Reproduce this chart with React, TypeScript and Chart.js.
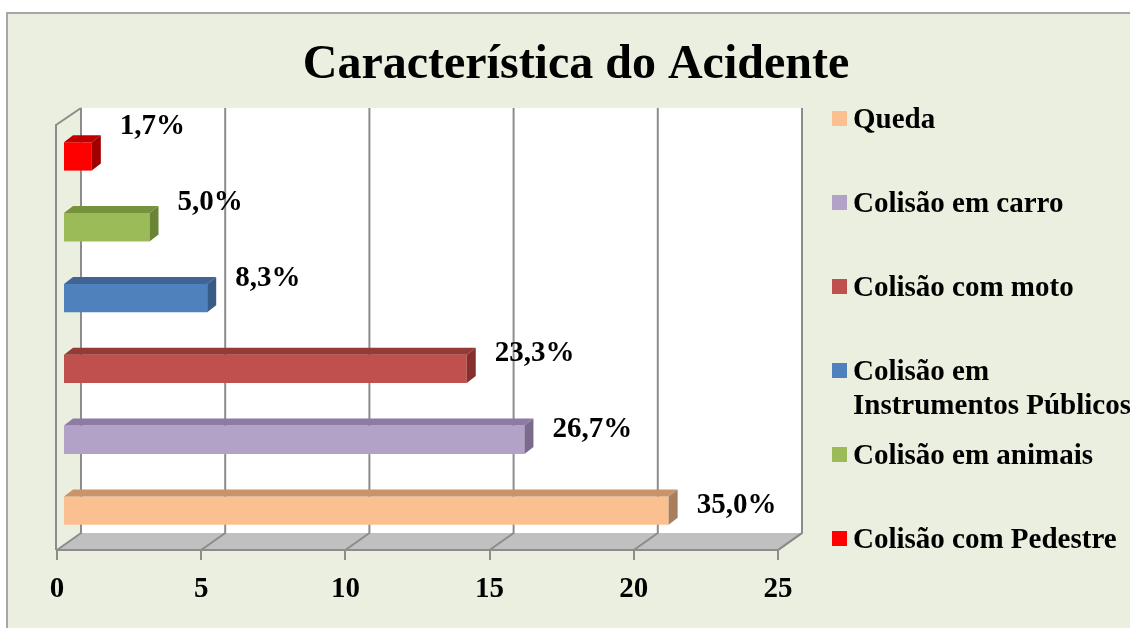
import React, { useEffect, useRef } from "react";
import { Chart, registerables } from "chart.js";

Chart.register(...registerables);

// ---- data ----
const chartTitle = "Característica do Acidente";
const categories = [
  "Queda",
  "Colisão em carro",
  "Colisão com moto",
  "Colisão em Instrumentos Públicos",
  "Colisão em animais",
  "Colisão com Pedestre",
];
const counts = [21, 16, 14, 5, 3, 1];
const percentLabels = ["35,0%", "26,7%", "23,3%", "8,3%", "5,0%", "1,7%"];
const xTicks = [0, 5, 10, 15, 20, 25];
const frontColors = ["#FAC090", "#B3A2C7", "#C0504D", "#4F81BD", "#9BBB59", "#FF0000"];
const topColors = ["#C8946C", "#8E7BA3", "#953A37", "#3E6596", "#76923C", "#C00000"];
const sideColors = ["#A87F5E", "#7A6A8C", "#86302E", "#385C88", "#6A8436", "#A00000"];

// ---- style constants ----
const FONT = "'Liberation Serif', 'Times New Roman', serif";
const BG = "#EBEFDF";
const GRID = "#8C8C8C";
const DEPTH_X = 24;
const DEPTH_Y = 17;
const BAR_SHIFT_X = 6;
const BAR_SHIFT_Y = -4;
const BAR_DX = 9;
const BAR_DY = 7;

function poly(ctx: CanvasRenderingContext2D, pts: number[][]) {
  ctx.beginPath();
  ctx.moveTo(pts[0][0], pts[0][1]);
  for (let i = 1; i < pts.length; i++) ctx.lineTo(pts[i][0], pts[i][1]);
  ctx.closePath();
}

// wrap into at most two lines: the first fits maxW, the rest overflows
function wrap2(ctx: CanvasRenderingContext2D, text: string, maxW: number): string[] {
  if (ctx.measureText(text).width <= maxW) return [text];
  const words = text.split(" ");
  let first = words[0];
  let k = 1;
  while (k < words.length && ctx.measureText(first + " " + words[k]).width <= maxW) {
    first += " " + words[k];
    k++;
  }
  const rest = words.slice(k).join(" ");
  return rest ? [first, rest] : [first];
}

const scenePlugin = {
  id: "scene3d",
  beforeDraw(chart: any) {
    const ctx: CanvasRenderingContext2D = chart.ctx;
    const { width, height } = chart;
    ctx.save();
    ctx.fillStyle = "#ffffff";
    ctx.fillRect(0, 0, width, height);
    ctx.fillStyle = BG;
    ctx.fillRect(7, 13, width - 7, height - 13);
    ctx.strokeStyle = "#A6A6A6";
    ctx.lineWidth = 2;
    ctx.beginPath();
    ctx.moveTo(7, height);
    ctx.lineTo(7, 13);
    ctx.lineTo(width, 13);
    ctx.stroke();

    // title
    ctx.fillStyle = "#000";
    ctx.font = `bold 48px ${FONT}`;
    ctx.textAlign = "center";
    ctx.textBaseline = "alphabetic";
    ctx.fillText(chartTitle, 576, 78);

    const a = chart.chartArea;
    const xs = chart.scales.x;
    const L = a.left, R = a.right, T = a.top, B = a.bottom;

    // back wall
    ctx.fillStyle = "#ffffff";
    ctx.fillRect(L + DEPTH_X, T - DEPTH_Y, R - L, B - T);
    // floor
    ctx.fillStyle = "#C0C0C0";
    poly(ctx, [[L, B], [R, B], [R + DEPTH_X, B - DEPTH_Y], [L + DEPTH_X, B - DEPTH_Y]]);
    ctx.fill();
    // left wall
    ctx.fillStyle = BG;
    poly(ctx, [[L - 1, T], [L + DEPTH_X, T - DEPTH_Y], [L + DEPTH_X, B - DEPTH_Y], [L - 1, B]]);
    ctx.fill();

    ctx.strokeStyle = GRID;
    ctx.lineWidth = 2;
    xTicks.forEach((v) => {
      const x = xs.getPixelForValue(v);
      ctx.beginPath();
      ctx.moveTo(x, B);
      ctx.lineTo(x + DEPTH_X, B - DEPTH_Y);
      ctx.lineTo(x + DEPTH_X, T - DEPTH_Y);
      ctx.stroke();
    });
    ctx.beginPath();
    ctx.moveTo(L - 1, B);
    ctx.lineTo(L - 1, T);
    ctx.lineTo(L + DEPTH_X, T - DEPTH_Y);
    ctx.stroke();
    ctx.beginPath();
    ctx.moveTo(L - 1, B);
    ctx.lineTo(R, B);
    ctx.lineTo(R + DEPTH_X, B - DEPTH_Y);
    ctx.stroke();
    ctx.restore();
  },
  beforeDatasetsDraw(chart: any) {
    chart.ctx.save();
    chart.ctx.translate(BAR_SHIFT_X, BAR_SHIFT_Y);
  },
  afterDatasetsDraw(chart: any) {
    const ctx: CanvasRenderingContext2D = chart.ctx;
    const meta = chart.getDatasetMeta(0);
    meta.data.forEach((bar: any, i: number) => {
      const { x, y, base, height } = bar.getProps(["x", "y", "base", "height"], true);
      const top = y - height / 2;
      const bottom = y + height / 2;
      ctx.fillStyle = topColors[i];
      poly(ctx, [[base, top], [base + BAR_DX, top - BAR_DY], [x + BAR_DX, top - BAR_DY], [x, top]]);
      ctx.fill();
      ctx.fillStyle = sideColors[i];
      poly(ctx, [[x, top], [x + BAR_DX, top - BAR_DY], [x + BAR_DX, bottom - BAR_DY], [x, bottom]]);
      ctx.fill();
    });
    ctx.restore();

    // data labels
    ctx.save();
    ctx.fillStyle = "#000";
    ctx.font = `bold 29px ${FONT}`;
    ctx.textAlign = "left";
    ctx.textBaseline = "middle";
    meta.data.forEach((bar: any, i: number) => {
      const { x, y } = bar.getProps(["x", "y"], true);
      ctx.fillText(percentLabels[i], x + BAR_SHIFT_X + 28, y + BAR_SHIFT_Y - (5.5 + 4.8 * i));
    });

    // legend
    const legendX = 832;
    const legendTop = 118;
    const legendStep = 84;
    const lineH = 34;
    ctx.textBaseline = "alphabetic";
    categories.forEach((c, i) => {
      const cy = legendTop + legendStep * i;
      ctx.fillStyle = frontColors[i];
      ctx.fillRect(legendX, cy - 7, 15, 15);
      ctx.fillStyle = "#000";
      const lines = wrap2(ctx, c, 275);
      lines.forEach((ln, k) => ctx.fillText(ln, legendX + 21, cy + 9.5 + k * lineH));
    });
    ctx.restore();
  },
};

export default function App() {
  const ref = useRef<HTMLCanvasElement | null>(null);
  useEffect(() => {
    document.body.style.margin = "0";
    const canvas = ref.current;
    if (!canvas) return;
    const chart = new Chart(canvas, {
      type: "bar",
      data: {
        labels: categories,
        datasets: [
          {
            data: counts,
            backgroundColor: frontColors,
            borderWidth: 0,
            categoryPercentage: 1,
            barPercentage: 0.4,
          } as any,
        ],
      },
      options: {
        responsive: false,
        animation: false,
        indexAxis: "y",
        devicePixelRatio: 1,
        layout: { padding: { left: 57, right: 352, top: 125, bottom: 0 } },
        plugins: {
          legend: { display: false },
          title: { display: false },
          tooltip: { enabled: false },
        },
        scales: {
          x: {
            type: "linear",
            position: "bottom",
            min: 0,
            max: 25,
            afterBuildTicks: (s: any) => {
              s.ticks = xTicks.map((v) => ({ value: v }));
            },
            ticks: {
              color: "#000",
              padding: 12,
              maxRotation: 0,
              font: { family: FONT, size: 29, weight: "bold" },
            },
            grid: {
              drawOnChartArea: false,
              drawTicks: true,
              tickLength: 10,
              color: GRID,
              lineWidth: 2,
              tickWidth: 2,
            },
            border: { display: false },
            afterFit: (s: any) => {
              s.height = 78;
            },
          },
          y: {
            type: "category",
            reverse: true,
            display: false,
            offset: true,
          },
        },
      } as any,
      plugins: [scenePlugin],
    });
    return () => chart.destroy();
  }, []);
  return (
    <div style={{ width: 1130, height: 628 }}>
      <canvas ref={ref} width={1130} height={628} style={{ display: "block" }} />
    </div>
  );
}
